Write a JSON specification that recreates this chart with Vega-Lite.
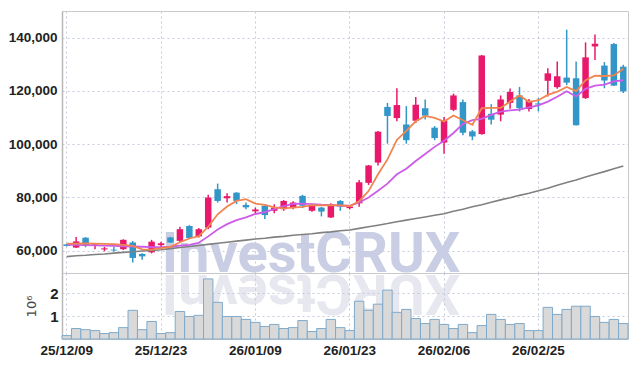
{
  "$schema": "https://vega.github.io/schema/vega-lite/v6.json",
  "background": "white",
  "padding": {"left": 7, "top": 10, "right": 8, "bottom": 6},
  "autosize": {"type": "pad"},
  "spacing": 0,
  "bounds": "flush",
  "config": {
    "view": {"stroke": "#c9c9c9", "strokeWidth": 1},
    "axis": {
      "labelFont": "Liberation Sans, Arial, sans-serif",
      "labelFontWeight": "bold",
      "labelColor": "#222222",
      "labelFontSize": 13.5,
      "gridColor": "#c6cadd",
      "gridDash": [2, 3],
      "gridWidth": 1,
      "ticks": false,
      "domain": false
    }
  },
  "datasets": {
    "ohlc": [
      {"d": "25/12/09", "o": 62400, "h": 62600, "l": 61600, "c": 61800, "v": 150000, "m5": 62700, "m20": 62200, "m60": 57800},
      {"d": "25/12/10", "o": 61200, "h": 65200, "l": 61000, "c": 63500, "v": 460000, "m5": 62700, "m20": 62200, "m60": 58100},
      {"d": "25/12/11", "o": 64900, "h": 65100, "l": 61300, "c": 61800, "v": 410000, "m5": 62800, "m20": 62100, "m60": 58300},
      {"d": "25/12/12", "o": 62300, "h": 62900, "l": 60600, "c": 62600, "v": 370000, "m5": 62700, "m20": 62000, "m60": 58600},
      {"d": "25/12/15", "o": 60500, "h": 61500, "l": 59800, "c": 60900, "v": 240000, "m5": 62600, "m20": 61900, "m60": 58800},
      {"d": "25/12/16", "o": 60400, "h": 61500, "l": 59700, "c": 60100, "v": 280000, "m5": 62500, "m20": 61800, "m60": 59100},
      {"d": "25/12/17", "o": 60600, "h": 64300, "l": 60300, "c": 64100, "v": 500000, "m5": 62200, "m20": 61700, "m60": 59400},
      {"d": "25/12/18", "o": 63100, "h": 63700, "l": 55600, "c": 57300, "v": 1260000, "m5": 61800, "m20": 61600, "m60": 59600},
      {"d": "25/12/19", "o": 58800, "h": 59100, "l": 56600, "c": 57900, "v": 410000, "m5": 60500, "m20": 61500, "m60": 59900},
      {"d": "25/12/22", "o": 59400, "h": 64100, "l": 59000, "c": 63400, "v": 770000, "m5": 60400, "m20": 61400, "m60": 60100},
      {"d": "25/12/23", "o": 62100, "h": 63400, "l": 61300, "c": 62800, "v": 240000, "m5": 61000, "m20": 61400, "m60": 60400},
      {"d": "25/12/24", "o": 65000, "h": 65200, "l": 62900, "c": 63100, "v": 280000, "m5": 61500, "m20": 61500, "m60": 60800},
      {"d": "25/12/26", "o": 63700, "h": 69000, "l": 63200, "c": 68100, "v": 1210000, "m5": 63200, "m20": 61900, "m60": 61200},
      {"d": "25/12/29", "o": 69300, "h": 69600, "l": 64500, "c": 64800, "v": 990000, "m5": 64600, "m20": 62200, "m60": 61600},
      {"d": "25/12/30", "o": 65400, "h": 68500, "l": 65000, "c": 68100, "v": 1040000, "m5": 65500, "m20": 63000, "m60": 62000},
      {"d": "26/01/02", "o": 68700, "h": 81000, "l": 68100, "c": 80000, "v": 2640000, "m5": 69000, "m20": 65400, "m60": 62400},
      {"d": "26/01/05", "o": 83100, "h": 85200, "l": 78100, "c": 78700, "v": 1610000, "m5": 73700, "m20": 68000, "m60": 62800},
      {"d": "26/01/06", "o": 79700, "h": 81600, "l": 78100, "c": 80500, "v": 990000, "m5": 76600, "m20": 70000, "m60": 63200},
      {"d": "26/01/07", "o": 81800, "h": 82000, "l": 77500, "c": 78700, "v": 990000, "m5": 78700, "m20": 71500, "m60": 63600},
      {"d": "26/01/08", "o": 77200, "h": 78100, "l": 75600, "c": 76300, "v": 860000, "m5": 79400, "m20": 72500, "m60": 64000},
      {"d": "26/01/09", "o": 74800, "h": 76200, "l": 74100, "c": 75500, "v": 730000, "m5": 77700, "m20": 73800, "m60": 64400},
      {"d": "26/01/12", "o": 76900, "h": 77000, "l": 71900, "c": 73400, "v": 550000, "m5": 77200, "m20": 74500, "m60": 64700},
      {"d": "26/01/13", "o": 75000, "h": 77500, "l": 74100, "c": 76200, "v": 640000, "m5": 76300, "m20": 75600, "m60": 65100},
      {"d": "26/01/14", "o": 75600, "h": 79000, "l": 75000, "c": 78700, "v": 460000, "m5": 75900, "m20": 76800, "m60": 65400},
      {"d": "26/01/15", "o": 76200, "h": 78600, "l": 75600, "c": 78100, "v": 500000, "m5": 76200, "m20": 77600, "m60": 65800},
      {"d": "26/01/16", "o": 80600, "h": 81000, "l": 76000, "c": 76900, "v": 810000, "m5": 76500, "m20": 77700, "m60": 66100},
      {"d": "26/01/19", "o": 75000, "h": 77400, "l": 74600, "c": 77200, "v": 330000, "m5": 77100, "m20": 77500, "m60": 66400},
      {"d": "26/01/20", "o": 76200, "h": 76500, "l": 72900, "c": 74700, "v": 460000, "m5": 77000, "m20": 77300, "m60": 66800},
      {"d": "26/01/21", "o": 72500, "h": 77800, "l": 72300, "c": 77500, "v": 860000, "m5": 77100, "m20": 77200, "m60": 67100},
      {"d": "26/01/22", "o": 78700, "h": 79000, "l": 75000, "c": 76600, "v": 500000, "m5": 77000, "m20": 76900, "m60": 67500},
      {"d": "26/01/23", "o": 76000, "h": 77100, "l": 75500, "c": 76600, "v": 370000, "m5": 76800, "m20": 76900, "m60": 67800},
      {"d": "26/01/26", "o": 77800, "h": 86600, "l": 76500, "c": 85700, "v": 1660000, "m5": 78600, "m20": 78100, "m60": 68400},
      {"d": "26/01/27", "o": 85500, "h": 92200, "l": 84700, "c": 92000, "v": 1260000, "m5": 82400, "m20": 80000, "m60": 69000},
      {"d": "26/01/28", "o": 93100, "h": 105000, "l": 92000, "c": 104700, "v": 1530000, "m5": 88700, "m20": 82500, "m60": 69600},
      {"d": "26/01/29", "o": 114000, "h": 115500, "l": 100200, "c": 110600, "v": 2150000, "m5": 94300, "m20": 85200, "m60": 70200},
      {"d": "26/01/30", "o": 109800, "h": 121000, "l": 108600, "c": 114700, "v": 1170000, "m5": 101600, "m20": 88700, "m60": 70900},
      {"d": "26/02/02", "o": 107400, "h": 114300, "l": 100200, "c": 101500, "v": 1300000, "m5": 105000, "m20": 90800, "m60": 71500},
      {"d": "26/02/03", "o": 108800, "h": 117700, "l": 108000, "c": 114800, "v": 900000, "m5": 108600, "m20": 93700, "m60": 72100},
      {"d": "26/02/04", "o": 113500, "h": 116800, "l": 109300, "c": 110700, "v": 680000, "m5": 110600, "m20": 96300, "m60": 72700},
      {"d": "26/02/05", "o": 106200, "h": 106800, "l": 101500, "c": 102300, "v": 860000, "m5": 109900, "m20": 99000, "m60": 73300},
      {"d": "26/02/06", "o": 100600, "h": 110200, "l": 96400, "c": 108800, "v": 640000, "m5": 108500, "m20": 101300, "m60": 73900},
      {"d": "26/02/09", "o": 112900, "h": 119000, "l": 112400, "c": 118300, "v": 460000, "m5": 110800, "m20": 104200, "m60": 74800},
      {"d": "26/02/10", "o": 115800, "h": 116800, "l": 103400, "c": 104300, "v": 640000, "m5": 109000, "m20": 107600, "m60": 75600},
      {"d": "26/02/11", "o": 104800, "h": 105300, "l": 101500, "c": 102900, "v": 280000, "m5": 107300, "m20": 109000, "m60": 76500},
      {"d": "26/02/12", "o": 103800, "h": 133500, "l": 103500, "c": 133300, "v": 590000, "m5": 113500, "m20": 109500, "m60": 77300},
      {"d": "26/02/13", "o": 111400, "h": 115000, "l": 107400, "c": 109200, "v": 1080000, "m5": 113600, "m20": 111000, "m60": 78200},
      {"d": "26/02/19", "o": 111100, "h": 118300, "l": 108600, "c": 116800, "v": 860000, "m5": 113600, "m20": 112200, "m60": 79100},
      {"d": "26/02/20", "o": 115500, "h": 120900, "l": 113300, "c": 119600, "v": 640000, "m5": 116000, "m20": 112700, "m60": 79900},
      {"d": "26/02/23", "o": 118300, "h": 121500, "l": 112300, "c": 113500, "v": 680000, "m5": 118300, "m20": 113000, "m60": 80800},
      {"d": "26/02/24", "o": 113200, "h": 117000, "l": 112300, "c": 116300, "v": 370000, "m5": 115800, "m20": 113800, "m60": 81600},
      {"d": "26/02/25", "o": 115300, "h": 117300, "l": 112300, "c": 114900, "v": 370000, "m5": 116500, "m20": 114600, "m60": 82500},
      {"d": "26/02/26", "o": 123800, "h": 128500, "l": 117900, "c": 126600, "v": 1390000, "m5": 118500, "m20": 116000, "m60": 83500},
      {"d": "26/02/27", "o": 121400, "h": 131000, "l": 120800, "c": 125500, "v": 1080000, "m5": 119700, "m20": 117800, "m60": 84600},
      {"d": "26/03/03", "o": 125000, "h": 143000, "l": 122200, "c": 123100, "v": 1300000, "m5": 121500, "m20": 119900, "m60": 85600},
      {"d": "26/03/04", "o": 124800, "h": 131000, "l": 107000, "c": 107100, "v": 1440000, "m5": 119900, "m20": 117900, "m60": 86600},
      {"d": "26/03/05", "o": 117300, "h": 138200, "l": 117000, "c": 132600, "v": 1440000, "m5": 124000, "m20": 120800, "m60": 87700},
      {"d": "26/03/06", "o": 136700, "h": 141200, "l": 131600, "c": 137700, "v": 990000, "m5": 125700, "m20": 122000, "m60": 88700},
      {"d": "26/03/09", "o": 129500, "h": 130800, "l": 121000, "c": 123900, "v": 730000, "m5": 125600, "m20": 122400, "m60": 89700},
      {"d": "26/03/10", "o": 137600, "h": 138000, "l": 121800, "c": 122000, "v": 860000, "m5": 125800, "m20": 123600, "m60": 90800},
      {"d": "26/03/11", "o": 129100, "h": 129800, "l": 119200, "c": 119800, "v": 680000, "m5": 128300, "m20": 124000, "m60": 91800}
    ],
    "mark": [{"t": "InvestCRUX", "r": "XURCtsevnI"}]
  },
  "vconcat": [
    {
      "width": 566,
      "height": 262,
      "layer": [
        {
          "data": {"name": "mark"},
          "mark": {"type": "text", "font": "Roboto", "fontWeight": "bold", "fontSize": 56, "align": "center", "baseline": "alphabetic", "color": "#c9cee4", "dx": -1},
          "encoding": {
            "x": {"datum": "26/01/19", "type": "ordinal", "scale": {"paddingInner": 0, "paddingOuter": 0}, "axis": {"values": ["25/12/09", "25/12/23", "26/01/09", "26/01/23", "26/02/06", "26/02/25"], "labels": false, "grid": true, "bandPosition": 0.5, "title": null}},
            "y": {"datum": 52100, "type": "quantitative", "scale": {"domain": [51650, 150000], "nice": false, "zero": false}, "title": null, "axis": {"values": [60000, 80000, 100000, 120000, 140000], "labelExpr": "format(datum.value, ',')", "labelPadding": 5, "grid": true, "domain": true, "domainColor": "#b8b8b8", "domainWidth": 1.5, "title": null}},
            "text": {"field": "t"}
          }
        },
        {
          "data": {"name": "mark"},
          "mark": {"type": "text", "font": "Roboto", "fontWeight": "bold", "fontSize": 56, "align": "center", "baseline": "alphabetic", "angle": 180, "color": "#e6e7ef", "dx": 1},
          "encoding": {
            "x": {"datum": "26/01/19", "type": "ordinal"},
            "y": {"datum": 51000, "type": "quantitative", "title": null},
            "text": {"field": "r"}
          }
        },
        {
          "data": {"name": "ohlc"},
          "mark": {"type": "rule", "strokeWidth": 1.5},
          "encoding": {
            "x": {"field": "d", "type": "ordinal", "title": null},
            "y": {"field": "l", "type": "quantitative", "title": null},
            "y2": {"field": "h"},
            "color": {"condition": {"test": "datum.c > datum.o", "value": "#e8196a"}, "value": "#3396c8"}
          }
        },
        {
          "data": {"name": "ohlc"},
          "mark": {"type": "bar", "width": 6.5},
          "encoding": {
            "x": {"field": "d", "type": "ordinal", "title": null},
            "y": {"field": "o", "type": "quantitative", "title": null},
            "y2": {"field": "c"},
            "color": {"condition": {"test": "datum.c > datum.o", "value": "#e8196a"}, "value": "#3396c8"}
          }
        },
        {
          "data": {"name": "ohlc"},
          "mark": {"type": "line", "color": "#808080", "strokeWidth": 1.6},
          "encoding": {
            "x": {"field": "d", "type": "ordinal", "title": null},
            "y": {"field": "m60", "type": "quantitative", "title": null}
          }
        },
        {
          "data": {"name": "ohlc"},
          "mark": {"type": "line", "color": "#cc5ce8", "strokeWidth": 1.8},
          "encoding": {
            "x": {"field": "d", "type": "ordinal", "title": null},
            "y": {"field": "m20", "type": "quantitative", "title": null}
          }
        },
        {
          "data": {"name": "ohlc"},
          "mark": {"type": "line", "color": "#f0854f", "strokeWidth": 1.8},
          "encoding": {
            "x": {"field": "d", "type": "ordinal", "title": null},
            "y": {"field": "m5", "type": "quantitative", "title": null}
          }
        }
      ]
    },
    {
      "width": 566,
      "height": 66,
      "data": {"name": "ohlc"},
      "mark": {"type": "bar", "fill": "#d9d9d9", "stroke": "#7eaacb", "strokeWidth": 1},
      "encoding": {
        "x": {"field": "d", "type": "ordinal", "scale": {"paddingInner": 0, "paddingOuter": 0}, "title": null, "axis": {"values": ["25/12/09", "25/12/23", "26/01/09", "26/01/23", "26/02/06", "26/02/25"], "labelAngle": 0, "labelPadding": 4, "grid": true, "bandPosition": 0.5}},
        "y": {"field": "v", "type": "quantitative", "scale": {"domain": [0, 2900000], "nice": false}, "title": "10⁶", "axis": {"values": [1000000, 2000000], "labelExpr": "datum.value / 1000000", "labelPadding": 4, "labelFontSize": 15, "grid": true, "domain": true, "domainColor": "#b8b8b8", "domainWidth": 1.5, "titleFont": "DejaVu Sans", "titleFontWeight": "normal", "titleFontSize": 13, "titleColor": "#444444", "titlePadding": 11}}
      }
    }
  ]
}
